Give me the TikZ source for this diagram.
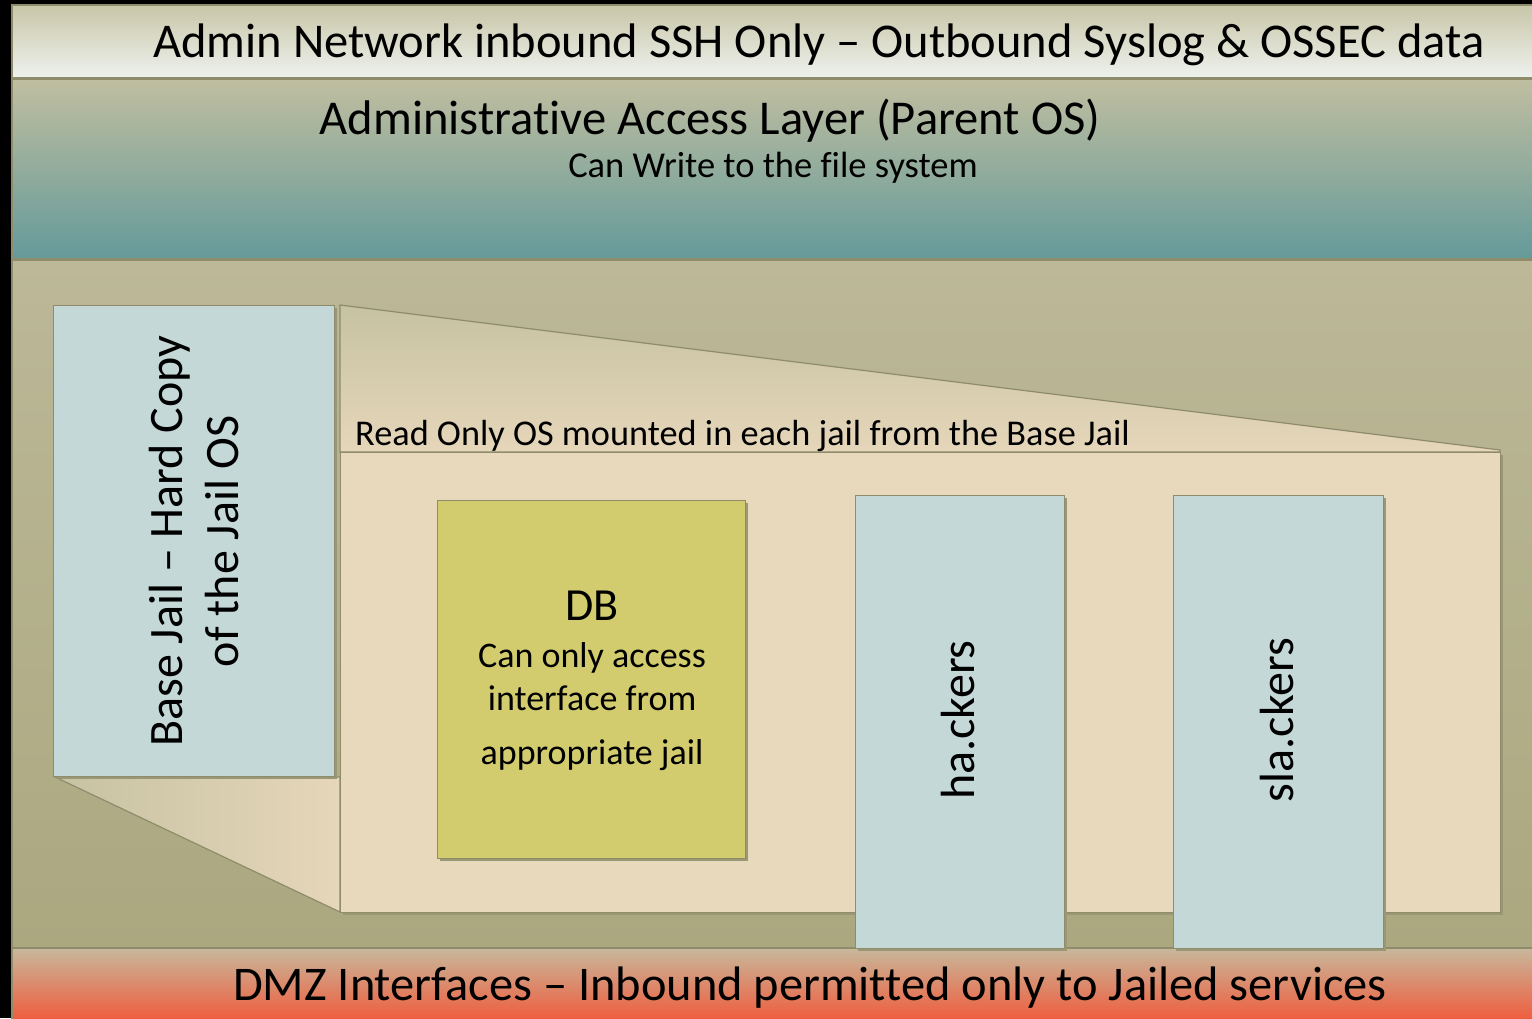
\documentclass[tikz,border=0pt]{standalone}
\usepackage{fontspec}
\setmainfont{Carlito}[Ligatures={NoCommon}]
\usetikzlibrary{shadings}
\definecolor{edge}{HTML}{8E8C6A}
\definecolor{shad}{HTML}{9A9874}
\definecolor{jailblue}{HTML}{C4D8D8}
\definecolor{dbfill}{HTML}{D2CC6E}
\definecolor{beige}{HTML}{E8D8BC}
\definecolor{topA}{HTML}{C8C6A8}
\definecolor{topB}{HTML}{EEF2EE}
\definecolor{tealA}{HTML}{C0BEA0}
\definecolor{tealB}{HTML}{649A9A}
\definecolor{oliveA}{HTML}{BCB898}
\definecolor{oliveB}{HTML}{ABA880}
\definecolor{redA}{HTML}{C8B89C}
\definecolor{redB}{HTML}{F05A3A}
\definecolor{trapA}{HTML}{C6C2A2}
\definecolor{trapB}{HTML}{E6D6BA}
\tikzset{
  band/.style={draw=edge, line width=1.5pt},
  boxshape/.style={draw=edge, line width=1.2pt, rectangle, inner sep=0pt, anchor=north west},
  lbl/.style={text=black, inner sep=0pt, align=center},
}
\begin{document}
\begin{tikzpicture}[x=1pt,y=-1pt]
\useasboundingbox (0,0) rectangle (1532,1018);
\fill[black] (0,0) rectangle (1532,1018);
% bands
\shade[band, top color=topA, bottom color=topB] (12,5) rectangle (1536,78);
\shade[band, top color=tealA, bottom color=tealB] (12,79) rectangle (1536,259);
\shade[band, top color=oliveA, bottom color=oliveB] (12,260) rectangle (1536,948);
\shade[band, top color=redA, bottom color=redB] (12,948) rectangle (1536,1022);
\node[lbl, anchor=base, font=\fontsize{48.5}{58}\selectfont] (admnet) at (819,57) {Admin Network inbound SSH Only – Outbound Syslog \& OSSEC data};
\node[lbl, anchor=base, font=\fontsize{48.6}{58}\selectfont] (adml) at (710,134) {Administrative Access Layer (Parent OS)};
\node[lbl, anchor=base, font=\fontsize{36.5}{44}\selectfont] (admw) at (773,177) {Can Write to the file system};
% projection shapes
\shade[top color=trapA, bottom color=trapB, draw=edge, line width=1.2pt] (340,305) -- (1500,450) -- (1500,452) -- (340,452) -- cycle;
\shade[left color=trapA, right color=trapB, draw=edge, line width=1.2pt] (55,777) -- (340,777) -- (340,912) -- cycle;
% base jail
\fill[shad] (56,308) rectangle (337,779);
\node[boxshape, fill=jailblue, minimum width=281pt, minimum height=471pt] (base) at (53,305) {};
\node[lbl, rotate=90, font=\fontsize{48}{56}\selectfont] (basetxt) at (base.center) {Base Jail – Hard Copy\\of the Jail OS};
% main beige
\fill[shad] (343,455) rectangle (1503,915);
\node[boxshape, fill=beige, minimum width=1160pt, minimum height=460pt] (ro) at (340,452) {};
\node[lbl, anchor=base west, font=\fontsize{36.3}{44}\selectfont] (rotxt) at (355,445) {Read Only OS mounted in each jail from the Base Jail};
% DB
\fill[shad] (440,503) rectangle (748,861);
\node[boxshape, fill=dbfill, minimum width=308pt, minimum height=358pt] (db) at (437,500) {};
\node[lbl, anchor=base, font=\fontsize{46}{50}\selectfont] (dbt) at (592,620) {DB};
\node[lbl, anchor=base, font=\fontsize{36}{44}\selectfont] (db1) at (592,667) {Can only access};
\node[lbl, anchor=base, font=\fontsize{36}{44}\selectfont] (db2) at (592,710) {interface from};
\node[lbl, anchor=base, font=\fontsize{36}{44}\selectfont] (db3) at (592,764) {appropriate jail};
% jails
\fill[shad] (858,498) rectangle (1067,951);
\node[boxshape, fill=jailblue, minimum width=209pt, minimum height=453pt] (ha) at (855,495) {};
\node[lbl, rotate=90, font=\fontsize{48}{56}\selectfont] (hat) at (958,720) {ha.ckers};
\fill[shad] (1176,498) rectangle (1386,951);
\node[boxshape, fill=jailblue, minimum width=210pt, minimum height=453pt] (sla) at (1173,495) {};
\node[lbl, rotate=90, font=\fontsize{48}{56}\selectfont] (slat) at (1277,720) {sla.ckers};
% DMZ
\node[lbl, anchor=base, font=\fontsize{48.4}{56}\selectfont] (dmz) at (810,1000) {DMZ Interfaces – Inbound permitted only to Jailed services};
\end{tikzpicture}
\end{document}
